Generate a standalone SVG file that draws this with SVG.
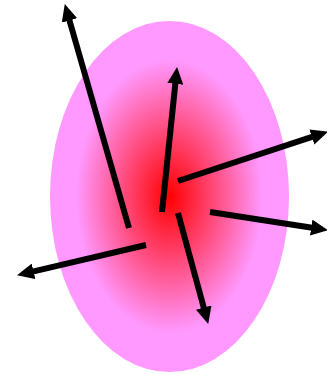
<svg xmlns="http://www.w3.org/2000/svg" width="327" height="374" viewBox="0 0 327 374">
  <defs>
    <radialGradient id="g" cx="0.5" cy="0.5" r="0.5">
      <stop offset="0" stop-color="#ff0000"/>
      <stop offset="0.78" stop-color="#ff99ff"/>
      <stop offset="1" stop-color="#ff99ff"/>
    </radialGradient>
    <marker id="ah" viewBox="0 0 17 16" refX="1" refY="8" markerWidth="17" markerHeight="16" markerUnits="userSpaceOnUse" orient="auto">
      <path d="M0,0 L17,8 L0,16 z" fill="#000"/>
    </marker>
  </defs>
  <style>
    .a { stroke: #000; stroke-width: 6; fill: none; marker-end: url(#ah); }
  </style>
  <g id="blob">
    <ellipse cx="169.5" cy="196.5" rx="119.5" ry="175.5" fill="url(#g)"/>
  </g>
  <g id="connectors">
    <line class="a" x1="129" y1="228" x2="69.2" y2="19.5"/>
    <line class="a" x1="162" y1="212" x2="175.4" y2="82.9"/>
    <line class="a" x1="178" y1="181" x2="312.8" y2="136.7"/>
    <line class="a" x1="210" y1="212" x2="312.2" y2="227.7"/>
    <line class="a" x1="178" y1="213" x2="204" y2="308.5"/>
    <line class="a" x1="146" y1="245" x2="32.6" y2="271.6"/>
  </g>
</svg>
